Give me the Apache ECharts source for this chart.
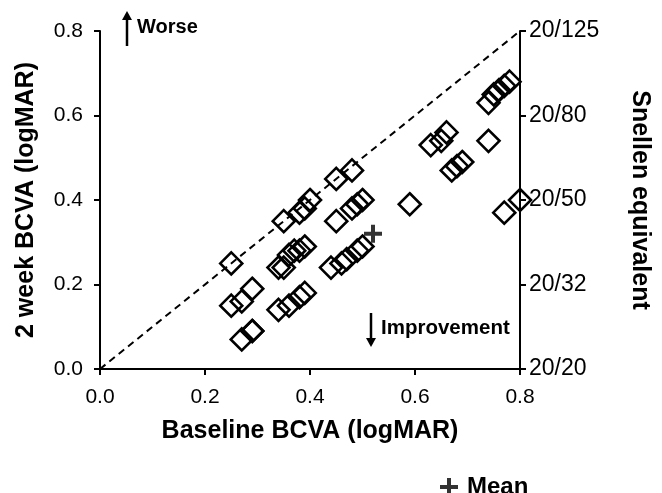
<!DOCTYPE html>
<html>
<head>
<meta charset="utf-8">
<script src="https://cdn.jsdelivr.net/npm/echarts@6/dist/echarts.min.js"></script>
<style>
html,body{margin:0;padding:0;background:#fff;}
#chart{width:662px;height:493px;}
</style>
</head>
<body>
<div id="chart"></div>
<script>
// Baseline BCVA (x) vs 2-week BCVA (y), logMAR
const baselineBCVA = [
  0.25, 0.35, 0.38, 0.39, 0.40, 0.45, 0.48,
  0.25, 0.27, 0.29,
  0.27, 0.29, 0.29,
  0.34, 0.35, 0.36, 0.37, 0.38, 0.39,
  0.34, 0.36, 0.38, 0.39,
  0.44, 0.46, 0.47, 0.49, 0.50,
  0.45,
  0.48, 0.49, 0.50,
  0.59,
  0.63, 0.65, 0.66,
  0.67, 0.68, 0.69,
  0.74,
  0.74, 0.75, 0.76, 0.77, 0.78,
  0.77, 0.80
];
const week2BCVA = [
  0.25, 0.35, 0.37, 0.38, 0.40, 0.45, 0.47,
  0.15, 0.16, 0.19,
  0.07, 0.09, 0.09,
  0.24, 0.24, 0.27, 0.28, 0.28, 0.29,
  0.14, 0.15, 0.17, 0.18,
  0.24, 0.25, 0.26, 0.28, 0.29,
  0.35,
  0.38, 0.39, 0.40,
  0.39,
  0.53, 0.54, 0.56,
  0.47, 0.48, 0.49,
  0.54,
  0.63, 0.65, 0.66, 0.67, 0.68,
  0.37, 0.40
];
const meanPoint = [0.52, 0.32];
const identityLine = [[0, 0], [0.8, 0.8]];
const logmarTicks = ['0.0', '0.2', '0.4', '0.6', '0.8'];
const snellenTicks = ['20/20', '20/32', '20/50', '20/80', '20/125'];

const FONT = '"Liberation Sans", Arial, Helvetica, sans-serif';
const plusPath = 'path://M7,0H11V7H18V11H11V18H7V11H0V7H7Z';

const points = baselineBCVA.map((x, i) => [x, week2BCVA[i]]);

const chart = echarts.init(document.getElementById('chart'), null, {renderer: 'canvas'});

const axisCommon = {
  type: 'value', min: 0, max: 0.8, interval: 0.2,
  axisLine: {show: true, onZero: false, lineStyle: {color: '#000', width: 2}},
  axisTick: {show: true, inside: false, length: 6, lineStyle: {color: '#000', width: 2}},
  splitLine: {show: false},
  nameTextStyle: {fontFamily: FONT, fontWeight: 'bold', fontSize: 25, color: '#000'}
};

chart.setOption({
  animation: false,
  backgroundColor: '#fff',
  grid: {left: 100, right: 142, top: 31, bottom: 124, containLabel: false},
  legend: {
    data: [{name: 'Mean', icon: plusPath}],
    left: 435, top: 470,
    itemWidth: 18, itemHeight: 18,
    textStyle: {fontFamily: FONT, fontWeight: 'bold', fontSize: 24, color: '#000', padding: [0, 0, 0, 4]},
    selectedMode: false
  },
  xAxis: Object.assign({}, axisCommon, {
    name: 'Baseline BCVA (logMAR)', nameLocation: 'middle', nameGap: 50,
    axisLabel: {fontFamily: FONT, fontSize: 21, color: '#000', margin: 18,
      formatter: v => logmarTicks[Math.round(v / 0.2)]}
  }),
  yAxis: [
    Object.assign({}, axisCommon, {
      position: 'left',
      name: '2 week BCVA (logMAR)', nameLocation: 'middle', nameGap: 61, nameRotate: 90,
      axisLabel: {fontFamily: FONT, fontSize: 21, color: '#000', margin: 17,
        formatter: v => logmarTicks[Math.round(v / 0.2)]}
    }),
    Object.assign({}, axisCommon, {
      position: 'right',
      name: 'Snellen equivalent', nameLocation: 'middle', nameGap: 107, nameRotate: -90,
      axisLabel: {fontFamily: FONT, fontSize: 23, color: '#000', margin: 9,
        formatter: v => snellenTicks[Math.round(v / 0.2)]}
    })
  ],
  series: [
    {
      type: 'line', data: identityLine, symbol: 'none', silent: true,
      lineStyle: {color: '#000', width: 2, type: [7, 5]}, z: 1
    },
    {
      type: 'scatter', name: 'Patients', data: points, symbol: 'diamond', symbolSize: 22,
      clip: false,
      itemStyle: {color: 'rgba(0,0,0,0)', borderColor: '#000', borderWidth: 2.6, opacity: 1}, z: 2
    },
    {
      type: 'scatter', name: 'Mean', data: [meanPoint], symbol: plusPath, symbolSize: 18,
      clip: false,
      itemStyle: {color: '#000'}, z: 3
    }
  ],
  graphic: [
    {type: 'line', shape: {x1: 127, y1: 46, x2: 127, y2: 16}, style: {stroke: '#000', lineWidth: 2.5}},
    {type: 'polygon', shape: {points: [[122, 20], [127, 11], [132, 20]]}, style: {fill: '#000'}},
    {type: 'text', left: 137, top: 17, style: {text: 'Worse', fontFamily: FONT, fontWeight: 'bold', fontSize: 20, fill: '#000'}},
    {type: 'line', shape: {x1: 371, y1: 313, x2: 371, y2: 342}, style: {stroke: '#000', lineWidth: 2.5}},
    {type: 'polygon', shape: {points: [[366, 338], [371, 347], [376, 338]]}, style: {fill: '#000'}},
    {type: 'text', left: 381, top: 318, style: {text: 'Improvement', fontFamily: FONT, fontWeight: 'bold', fontSize: 20.5, fill: '#000'}}
  ]
});
</script>
</body>
</html>
